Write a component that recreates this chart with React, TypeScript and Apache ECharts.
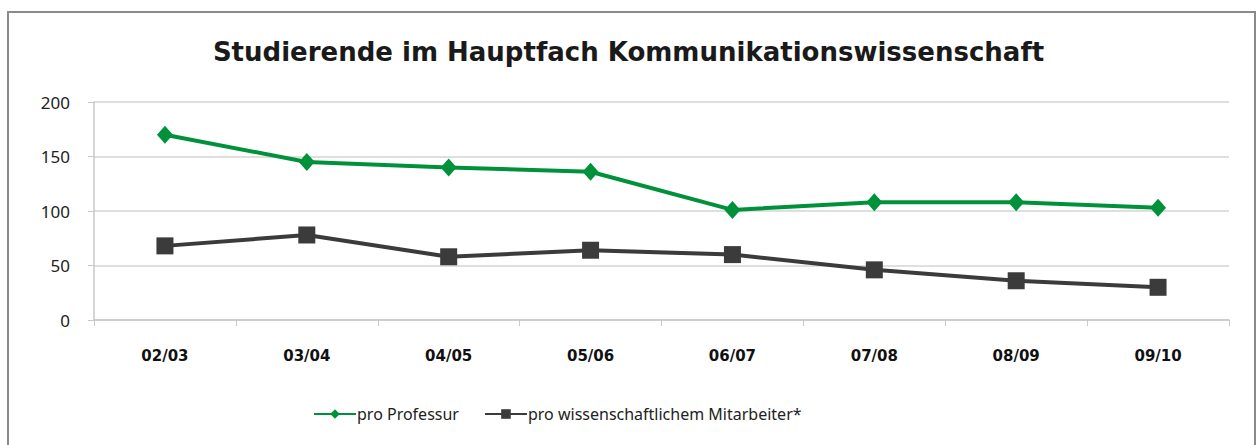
import React, { useEffect, useRef } from "react";
import * as echarts from "echarts";

const categories = ["02/03", "03/04", "04/05", "05/06", "06/07", "07/08", "08/09", "09/10"];
const proProfessur = [170, 145, 140, 136, 101, 108, 108, 103];
const proMitarbeiter = [68, 78, 58, 64, 60, 46, 36, 30];
const titleText = "Studierende im Hauptfach Kommunikationswissenschaft";
const seriesNames = ["pro Professur", "pro wissenschaftlichem Mitarbeiter*"];

export default function App() {
  const ref = useRef<HTMLDivElement>(null);
  useEffect(() => {
    if (!ref.current) return;
    const chart = echarts.init(ref.current, null, { renderer: "svg" });
    chart.setOption({
      animation: false,
      backgroundColor: "#ffffff",
      title: {
        text: titleText,
        left: "center",
        top: 34,
        textStyle: { fontFamily: "DejaVu Sans", fontSize: 26, fontWeight: "bold", color: "#1a1a1a" },
      },
      graphic: [
        {
          type: "rect",
          shape: { x: 8, y: 12, width: 1247, height: 445 },
          style: { fill: "none", stroke: "#8a8a8a", lineWidth: 2 },
          silent: true,
          z: -1,
        },
      ],
      legend: {
        bottom: 18,
        left: 308,
        itemWidth: 42,
        itemHeight: 12,
        itemGap: 25,
        textStyle: { fontFamily: "Noto Sans", fontSize: 16, color: "#222", padding: [0, 0, 0, -4] },
        data: seriesNames,
      },
      grid: { left: 94, right: 28, top: 102, bottom: 125 },
      xAxis: {
        type: "category",
        data: categories,
        boundaryGap: true,
        axisLine: { lineStyle: { color: "#c8c8c8", width: 1.5 } },
        axisTick: { show: true, length: 6, lineStyle: { color: "#c8c8c8" } },
        axisLabel: {
          margin: 28,
          fontFamily: "DejaVu Sans",
          fontSize: 15,
          fontWeight: "bold",
          color: "#111",
        },
      },
      yAxis: {
        type: "value",
        min: 0,
        max: 200,
        interval: 50,
        axisLine: { show: true, lineStyle: { color: "#c8c8c8", width: 1.5 } },
        axisTick: { show: true, length: 6, lineStyle: { color: "#c8c8c8" } },
        splitLine: { lineStyle: { color: "#d4d4d4", width: 1.5 } },
        axisLabel: {
          margin: 24,
          fontFamily: "Noto Sans",
          fontSize: 17,
          color: "#222",
        },
      },
      series: [
        {
          name: seriesNames[0],
          type: "line",
          data: proProfessur,
          symbol: "diamond",
          symbolSize: [16, 18],
          lineStyle: { color: "#00923a", width: 4 },
          itemStyle: { color: "#00923a" },
        },
        {
          name: seriesNames[1],
          type: "line",
          data: proMitarbeiter,
          symbol: "rect",
          symbolSize: 17,
          lineStyle: { color: "#3b3b3b", width: 4 },
          itemStyle: { color: "#3b3b3b" },
        },
      ],
    });
    return () => chart.dispose();
  }, []);
  return (
    <div
      ref={ref}
      style={{ position: "absolute", left: 0, top: 0, width: 1257, height: 445 }}
    />
  );
}
